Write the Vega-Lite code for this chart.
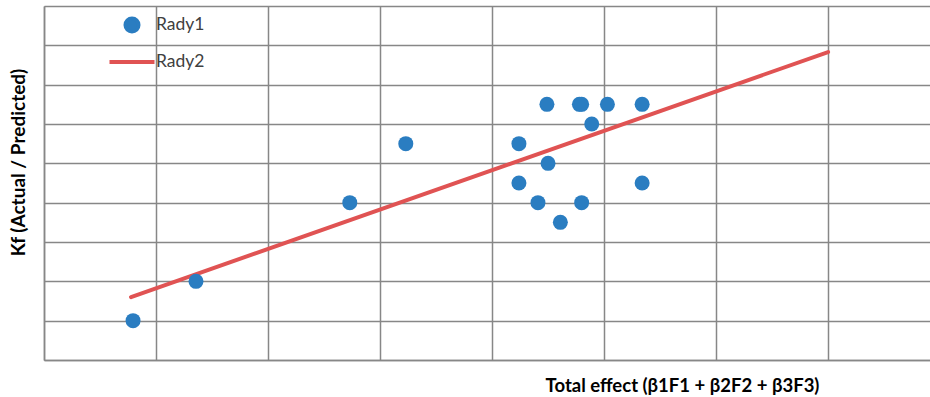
{
  "$schema": "https://vega.github.io/schema/vega-lite/v6.json",
  "width": 886,
  "height": 354,
  "autosize": {"type": "none"},
  "padding": {"left": 44, "top": 6, "right": 0, "bottom": 37},
  "background": "white",
  "config": {"view": {"stroke": null}, "font": "Lato"},
  "datasets": {
    "pts": [
      {"x": 0.795, "y": 1.0, "series": "Rady1"},
      {"x": 1.357, "y": 2.0, "series": "Rady1"},
      {"x": 2.73, "y": 4.0, "series": "Rady1"},
      {"x": 3.23, "y": 5.5, "series": "Rady1"},
      {"x": 4.49, "y": 6.5, "series": "Rady1"},
      {"x": 4.78, "y": 6.5, "series": "Rady1"},
      {"x": 4.8, "y": 6.5, "series": "Rady1"},
      {"x": 5.03, "y": 6.5, "series": "Rady1"},
      {"x": 5.34, "y": 6.5, "series": "Rady1"},
      {"x": 4.89, "y": 6.0, "series": "Rady1"},
      {"x": 4.24, "y": 5.5, "series": "Rady1"},
      {"x": 4.5, "y": 5.0, "series": "Rady1"},
      {"x": 4.24, "y": 4.5, "series": "Rady1"},
      {"x": 5.34, "y": 4.5, "series": "Rady1"},
      {"x": 4.41, "y": 4.0, "series": "Rady1"},
      {"x": 4.8, "y": 4.0, "series": "Rady1"},
      {"x": 4.61, "y": 3.5, "series": "Rady1"}
    ],
    "line": [
      {"x": 0.777, "y": 1.6, "series": "Rady2"},
      {"x": 7.0, "y": 7.83, "series": "Rady2"}
    ]
  },
  "encoding": {
    "x": {
      "field": "x",
      "type": "quantitative",
      "scale": {"domain": [0, 7.91], "nice": false, "zero": false},
      "axis": {
        "values": [0, 1, 2, 3, 4, 5, 6, 7],
        "labels": false,
        "ticks": false,
        "grid": true,
        "gridColor": "#878787",
        "gridWidth": 1.5,
        "domainColor": "#878787",
        "domainWidth": 1.5,
        "title": "Total effect (β1F1 + β2F2 + β3F3)",
        "titleFont": "Lato",
        "titleFontSize": 18.5,
        "titleFontWeight": "bold",
        "titleColor": "#000000",
        "titleX": 638,
        "titleY": 25,
        "titleAlign": "center",
        "titleBaseline": "middle"
      }
    },
    "y": {
      "field": "y",
      "type": "quantitative",
      "scale": {"domain": [0, 9], "nice": false, "zero": false},
      "axis": {
        "values": [0, 1, 2, 3, 4, 5, 6, 7, 8, 9],
        "labels": false,
        "ticks": false,
        "grid": true,
        "gridColor": "#878787",
        "gridWidth": 1.5,
        "domainColor": "#878787",
        "domainWidth": 1.5,
        "title": "Kf (Actual / Predicted)",
        "titleFont": "Lato",
        "titleFontSize": 19,
        "titleFontWeight": "bold",
        "titleColor": "#000000",
        "titleX": -26,
        "titleY": 156,
        "titleAngle": -90,
        "titleAlign": "center",
        "titleBaseline": "middle"
      }
    },
    "color": {
      "field": "series",
      "type": "nominal",
      "scale": {"domain": ["Rady1", "Rady2"], "range": ["#2A7DC1", "#E05353"]},
      "legend": {
        "orient": "none",
        "legendX": 79,
        "legendY": 10,
        "title": null,
        "padding": 0,
        "labelFont": "Lato",
        "labelFontSize": 17.5,
        "labelColor": "#404040",
        "labelOffset": 15,
        "rowPadding": 13,
        "encode": {
          "symbols": {
            "update": {
              "shape": {"signal": "datum.value === 'Rady2' ? 'stroke' : 'circle'"},
              "size": {"signal": "datum.value === 'Rady2' ? 2025 : 170"},
              "fill": {"signal": "datum.value === 'Rady2' ? 'transparent' : '#2A7DC1'"},
              "stroke": {"signal": "datum.value === 'Rady2' ? '#E05353' : 'transparent'"},
              "strokeWidth": {"value": 4},
              "opacity": {"value": 1},
              "fillOpacity": {"value": 1},
              "strokeOpacity": {"value": 1}
            }
          }
        }
      }
    }
  },
  "layer": [
    {
      "data": {"name": "line"},
      "mark": {"type": "line", "strokeWidth": 4, "strokeCap": "round"}
    },
    {
      "data": {"name": "pts"},
      "mark": {"type": "point", "filled": true, "size": 225, "opacity": 1}
    }
  ]
}
